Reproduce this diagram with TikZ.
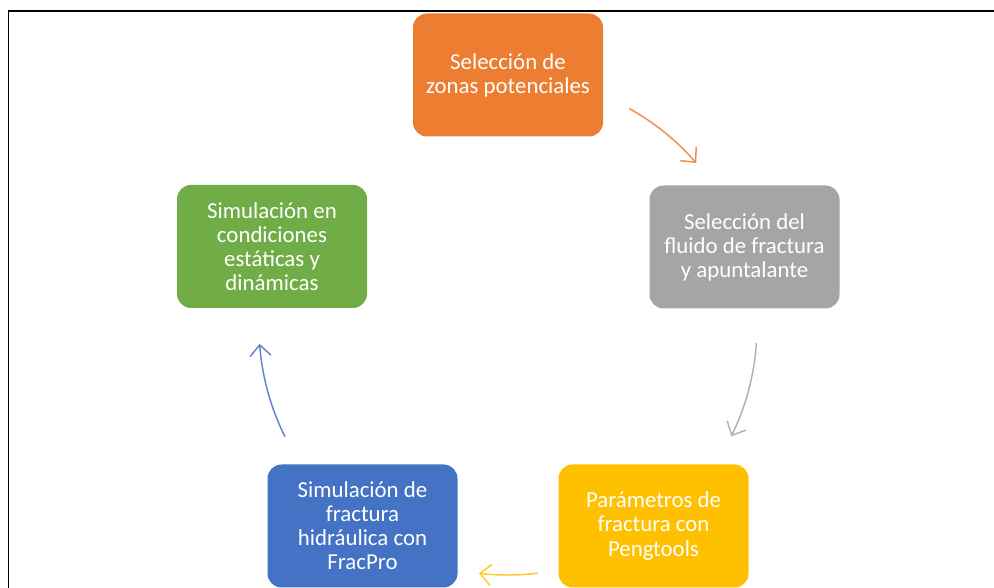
\documentclass[tikz,border=0pt]{standalone}
\usepackage{fontspec}
\setmainfont{Carlito}
\usetikzlibrary{calc,arrows.meta}
\definecolor{boxOrange}{HTML}{ED7D31}
\definecolor{boxGray}{HTML}{A5A5A5}
\definecolor{boxYellow}{HTML}{FFC000}
\definecolor{boxBlue}{HTML}{4472C4}
\definecolor{boxGreen}{HTML}{70AD47}

\begin{document}
\begin{tikzpicture}[
	stage/.style={rounded corners=0.28cm, minimum width=3.8cm, minimum height=2.46cm, inner sep=0pt, align=center, text=white, font=\fontsize{13}{13.7}\selectfont},
	cyc/.style={line width=0.85pt, -{Straight Barb[length=2.2mm,width=4.2mm]}}
	]
	%%%%% START %%%%%
	
	\useasboundingbox (0, 0) rectangle (19.88, 11.76);
	\draw[line width=1pt, color=black] (0.17, 0) -- (0.17, 11.54) -- (19.88, 11.54);
	
	\node[stage, fill=boxOrange] (zonas) at (10.16, 10.26) {Selección de\\zonas potenciales};
	\node[stage, fill=boxGray] (fluido) at (14.89, 6.82) {Selección del\\fluido de fractura\\y apuntalante};
	\node[stage, fill=boxYellow] (param) at (13.07, 1.24) {Parámetros de\\fractura con\\Pengtools};
	\node[stage, fill=boxBlue] (fracpro) at (7.25, 1.24) {Simulación de\\fractura\\hidráulica con\\FracPro};
	\node[stage, fill=boxGreen] (estat) at (5.44, 6.83) {Simulación en\\condiciones\\estáticas y\\dinámicas};
	
	% arrows sit on one circle round the middle
	\coordinate (ctr) at (10.16, 5.24);
	\coordinate (zonasOut) at ($(ctr)+(60.9:4.98)$);
	\coordinate (fluidoOut) at ($(ctr)+(-3.9:4.98)$);
	\coordinate (paramOut) at ($(ctr)+(-83.1:4.98)$);
	\coordinate (fracproOut) at ($(ctr)+(206.4:4.98)$);
	
	\draw[cyc, color=boxOrange!85] (zonasOut) arc (60.9:40.9:4.98);
	\draw[cyc, color=boxGray!85] (fluidoOut) arc (-3.9:-26.3:4.98);
	\draw[cyc, color=boxYellow!85] (paramOut) arc (-83.1:-96.7:4.98);
	\draw[cyc, color=boxBlue!85] (fracproOut) arc (206.4:184.1:4.98);
	
	%%%%% END %%%%%
\end{tikzpicture}
\end{document}
